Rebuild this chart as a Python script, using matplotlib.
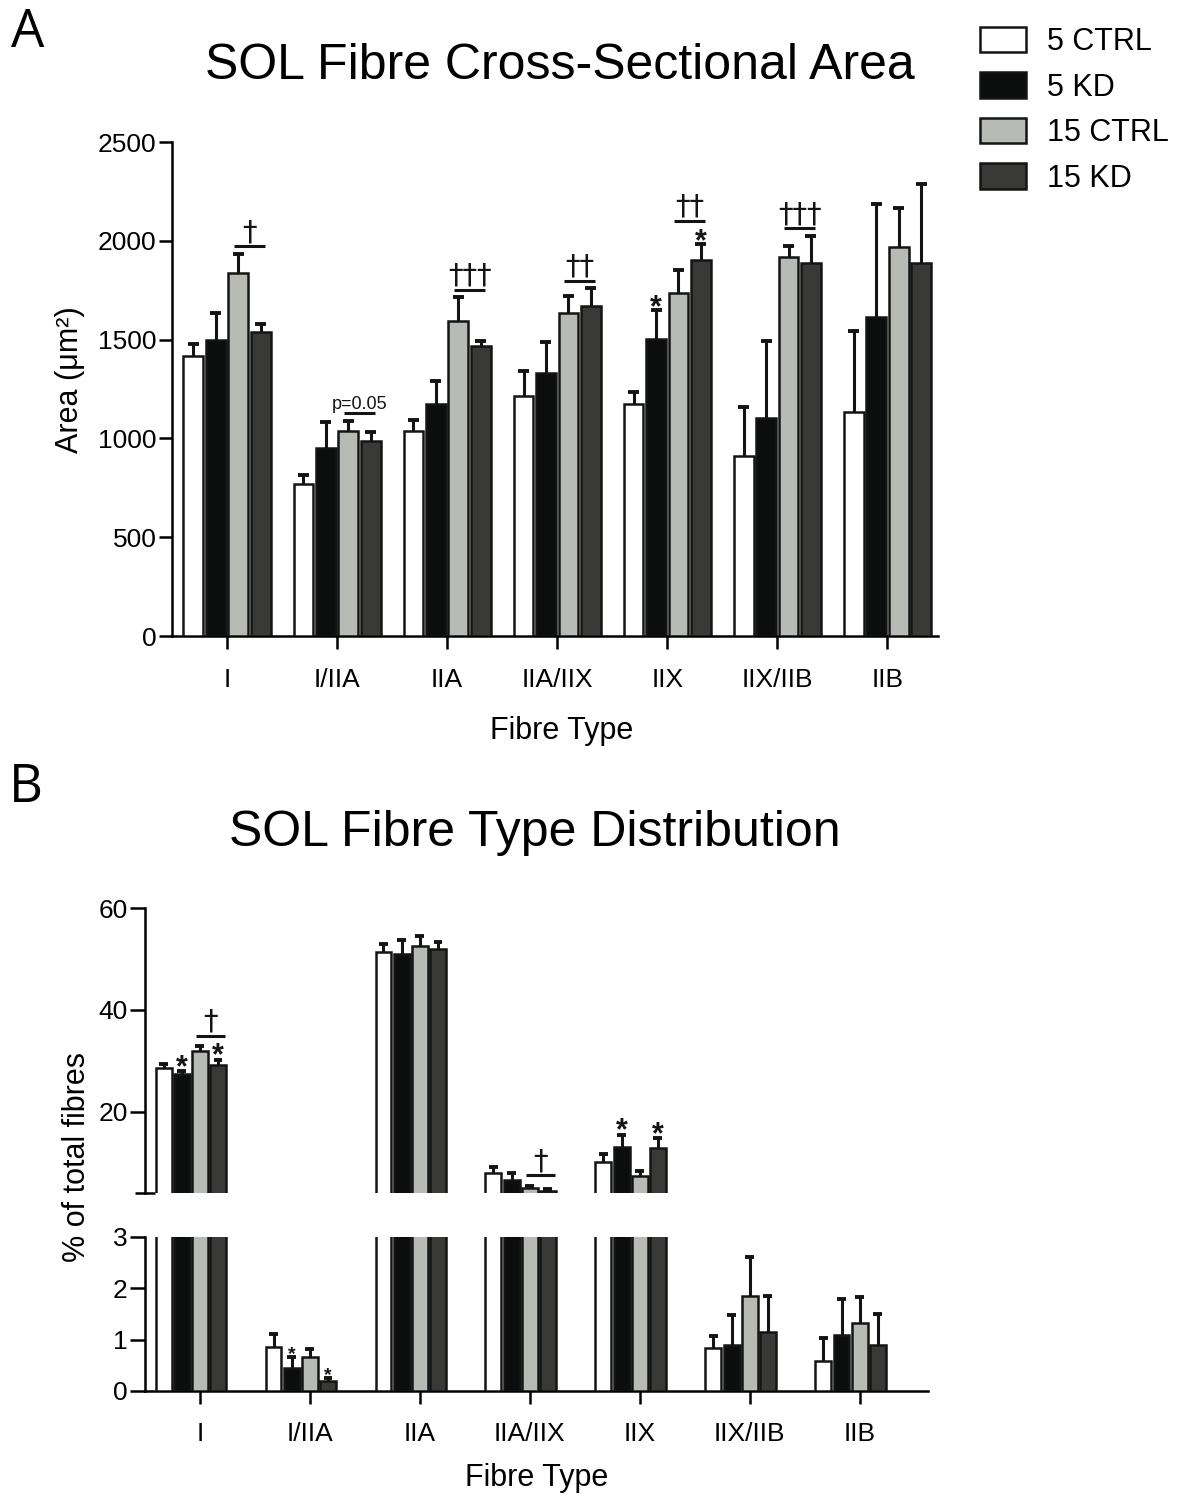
import matplotlib
matplotlib.use("Agg")
import matplotlib.pyplot as plt
import numpy as np
from matplotlib.patches import Patch
from matplotlib.transforms import offset_copy

plt.rcParams['font.family'] = ['Liberation Sans', 'DejaVu Sans']

#======================================================================================================================

FIBRE_TYPES = ["I", "I/IIA", "IIA", "IIA/IIX", "IIX", "IIX/IIB", "IIB"]
GROUPS = ["5 CTRL", "5 KD", "15 CTRL", "15 KD"]
COLOURS = ["#ffffff", "#0c0e0d", "#b8bab6", "#393937"]

# fibre cross-sectional area (um^2), mean and SEM
ctrl5_area = [1419, 768, 1035, 1214, 1175, 911, 1133]
kd5_area = [1498, 951, 1175, 1333, 1502, 1104, 1613]
ctrl15_area = [1837, 1037, 1596, 1633, 1736, 1919, 1968]
kd15_area = [1537, 986, 1466, 1672, 1902, 1886, 1886]

ctrl5_area_sem = [59, 49, 59, 129, 59, 249, 409]
kd5_area_sem = [137, 130, 115, 154, 150, 387, 575]
ctrl15_area_sem = [96, 49, 118, 89, 116, 56, 197]
kd15_area_sem = [42, 46, 29, 87, 84, 138, 400]

# fibre type distribution (% of total fibres), mean and SEM
ctrl5_pct = [28.5, 0.85, 51.4, 7.9, 10.0, 0.83, 0.58]
kd5_pct = [27.4, 0.45, 51.1, 6.5, 13.1, 0.89, 1.08]
ctrl15_pct = [31.9, 0.66, 52.5, 4.9, 7.3, 1.85, 1.32]
kd15_pct = [29.1, 0.20, 52.0, 4.4, 12.8, 1.15, 0.90]

ctrl5_pct_sem = [0.8, 0.25, 1.5, 1.3, 1.6, 0.24, 0.46]
kd5_pct_sem = [0.5, 0.21, 2.7, 1.4, 2.4, 0.58, 0.70]
ctrl15_pct_sem = [1.0, 0.16, 2.1, 0.5, 1.1, 0.75, 0.50]
kd15_pct_sem = [1.1, 0.05, 1.4, 0.4, 2.0, 0.69, 0.59]

AREA_MEANS = [ctrl5_area, kd5_area, ctrl15_area, kd15_area]
AREA_SEMS = [ctrl5_area_sem, kd5_area_sem, ctrl15_area_sem, kd15_area_sem]
PCT_MEANS = [ctrl5_pct, kd5_pct, ctrl15_pct, kd15_pct]
PCT_SEMS = [ctrl5_pct_sem, kd5_pct_sem, ctrl15_pct_sem, kd15_pct_sem]

# significance marks: (fibre type index, group index) or (fibre type index, text)
AREA_STARS = [(4, 1), (4, 3)]
AREA_DAGGERS = [(0, "†"), (2, "†††"), (3, "††"), (4, "††"), (5, "†††")]
AREA_PVALUES = [(1, "p=0.05")]
PCT_STARS = [(0, 1), (0, 3), (4, 1), (4, 3)]
PCT_SMALL_STARS = [(1, 1), (1, 3)]
PCT_DAGGERS = [(0, "†"), (3, "†")]

EDGE = "#141414"
LW = 1.8
TICK_SIZE = 19
LABEL_SIZE = 22

#======================================================================================================================

def barPositions(step, shift):
    x = np.arange(len(FIBRE_TYPES))
    return [x + shift + (g - 1.5) * step for g in range(len(GROUPS))]

def drawBars(ax, means, sems, width, step, shift, cap):
    for xs, m, s, c in zip(barPositions(step, shift), means, sems, COLOURS):
        m = np.array(m, dtype=float)
        top = m + np.array(s, dtype=float)
        ax.bar(xs, m, width, color=c, edgecolor=EDGE, linewidth=LW, zorder=3)
        ax.vlines(xs, m, top, color=EDGE, linewidth=2.2, zorder=2)
        ax.hlines(top, xs - cap, xs + cap, color=EDGE, linewidth=2.8, zorder=2)

def errTop(means, sems, cat, grp):
    return means[grp][cat] + sems[grp][cat]

def addStar(ax, x, y, size, offset):
    ax.annotate("*", (x, y), xytext=(0, offset), textcoords="offset points", ha="center",
                va="baseline", fontsize=size, fontweight="bold", color=EDGE, annotation_clip=False)

def addPairMark(ax, xc, half, y, offset, text, size, gap, family=None):
    trans = offset_copy(ax.transData, fig=ax.figure, y=offset, units="points")
    ax.plot([xc - half, xc + half], [y, y], transform=trans, color=EDGE, lw=2.2, clip_on=False,
            solid_capstyle="butt")
    ax.annotate(text, (xc, y), xytext=(0, offset + gap), textcoords="offset points", ha="center",
                va="bottom", fontsize=size, color=EDGE, annotation_clip=False, family=family)

def styleAxis(ax, left=True, bottom=True, ticklen=9.5, xpad=12):
    ax.spines["top"].set_visible(False)
    ax.spines["right"].set_visible(False)
    ax.spines["left"].set_visible(left)
    ax.spines["bottom"].set_visible(bottom)
    for sp in ax.spines.values():
        sp.set_linewidth(LW)
    ax.tick_params(axis="y", direction="out", length=ticklen, width=LW, labelsize=TICK_SIZE, pad=1.5)
    ax.tick_params(axis="x", direction="out", length=9, width=LW, labelsize=TICK_SIZE, pad=xpad)

#======================================================================================================================

def panelArea(fig):
    ax = fig.add_axes([172 / 1182, 1 - 636 / 1495, (938 - 172) / 1182, (636 - 142) / 1495])
    step, width, shift, cap = 0.204, 0.18, 0.0, 0.05
    drawBars(ax, AREA_MEANS, AREA_SEMS, width, step, shift, cap)
    ax.set_xlim(-0.5, 6.46)
    ax.set_ylim(0, 2500)
    ax.set_yticks([0, 500, 1000, 1500, 2000, 2500])
    ax.set_xticks(np.arange(len(FIBRE_TYPES)))
    ax.set_xticklabels(FIBRE_TYPES)
    styleAxis(ax, xpad=14)

    pos = barPositions(step, shift)
    for cat, grp in AREA_STARS:
        addStar(ax, pos[grp][cat], errTop(AREA_MEANS, AREA_SEMS, cat, grp), 22, -4.5)
    starred = {cat for cat, grp in AREA_STARS if grp >= 2}
    for cat, text in AREA_DAGGERS:
        top = max(errTop(AREA_MEANS, AREA_SEMS, cat, 2), errTop(AREA_MEANS, AREA_SEMS, cat, 3))
        off = 5.5 + (11 if cat in starred else 0)
        addPairMark(ax, cat + shift + step, 0.14, top, off, text, 21, 0.2, family="DejaVu Sans")
    for cat, text in AREA_PVALUES:
        top = max(errTop(AREA_MEANS, AREA_SEMS, cat, 2), errTop(AREA_MEANS, AREA_SEMS, cat, 3))
        addPairMark(ax, cat + shift + step, 0.145, top, 6, text, 13, 0.3)

    fig.text(70 / 1182, 1 - 380 / 1495, "Area (μm²)", rotation=90, ha="center", va="center",
             fontsize=LABEL_SIZE)
    fig.text(562 / 1182, 1 - 731 / 1495, "Fibre Type", ha="center", va="center", fontsize=LABEL_SIZE)
    fig.text(560 / 1182, 1 - 66 / 1495, "SOL Fibre Cross-Sectional Area", ha="center", va="center",
             fontsize=36)
    fig.text(28 / 1182, 1 - 33 / 1495, "A", ha="center", va="center", fontsize=38, family="Open Sans")

def panelDistribution(fig):
    left, width = 145 / 1182, (928 - 145) / 1182
    axTop = fig.add_axes([left, 1 - 1193 / 1495, width, (1193 - 908.3) / 1495])
    axBot = fig.add_axes([left, 1 - 1391 / 1495, width, (1391 - 1236.7) / 1495])
    step, barw, shift, cap = 0.165, 0.145, -0.084, 0.04

    for ax in (axTop, axBot):
        drawBars(ax, PCT_MEANS, PCT_SEMS, barw, step, shift, cap)
        ax.set_xlim(-0.5, 6.62)

    axTop.set_ylim(4, 60)
    axTop.set_yticks([20, 40, 60])
    axTop.set_yticks([4], minor=True)
    axTop.set_xticks([])
    styleAxis(axTop, bottom=False, ticklen=11)
    axTop.tick_params(axis="y", which="minor", direction="inout", length=14, width=LW)

    axBot.set_ylim(0, 3)
    axBot.set_yticks([0, 1, 2, 3])
    axBot.set_xticks(np.arange(len(FIBRE_TYPES)))
    axBot.set_xticklabels(FIBRE_TYPES)
    styleAxis(axBot, ticklen=11, xpad=13)

    pos = barPositions(step, shift)
    for cat, grp in PCT_STARS:
        addStar(axTop, pos[grp][cat], errTop(PCT_MEANS, PCT_SEMS, cat, grp), 22, -3.5)
    for cat, grp in PCT_SMALL_STARS:
        addStar(axBot, pos[grp][cat], errTop(PCT_MEANS, PCT_SEMS, cat, grp), 14, -1.2)
    for cat, text in PCT_DAGGERS:
        top = max(errTop(PCT_MEANS, PCT_SEMS, cat, 2), errTop(PCT_MEANS, PCT_SEMS, cat, 3))
        addPairMark(axTop, cat + shift + step + 0.015, 0.135, top, 7.5, text, 21, 0.1,
                    family="DejaVu Sans")

    fig.text(77 / 1182, 1 - 1157 / 1495, "% of total fibres", rotation=90, ha="center", va="center",
             fontsize=LABEL_SIZE)
    fig.text(537 / 1182, 1 - 1478 / 1495, "Fibre Type", ha="center", va="center", fontsize=LABEL_SIZE)
    fig.text(535 / 1182, 1 - 833 / 1495, "SOL Fibre Type Distribution", ha="center", va="center",
             fontsize=36)
    fig.text(26 / 1182, 1 - 788 / 1495, "B", ha="center", va="center", fontsize=38, family="Open Sans")

def addLegend(fig):
    handles = [Patch(facecolor=c, edgecolor=EDGE, linewidth=LW) for c in COLOURS]
    fig.legend(handles, GROUPS, loc="upper left", bbox_to_anchor=(980 / 1182, 1 - 27 / 1495),
               frameon=False, fontsize=22, handlelength=1.5, handleheight=0.9, handletextpad=0.7,
               labelspacing=0.5, borderpad=0, borderaxespad=0)

def main():
    fig = plt.figure(figsize=(11.82, 14.95), dpi=100)
    panelArea(fig)
    panelDistribution(fig)
    addLegend(fig)
    fig.savefig("out.png", dpi=100)

#======================================================================================================================

if __name__ == "__main__":
    main()
